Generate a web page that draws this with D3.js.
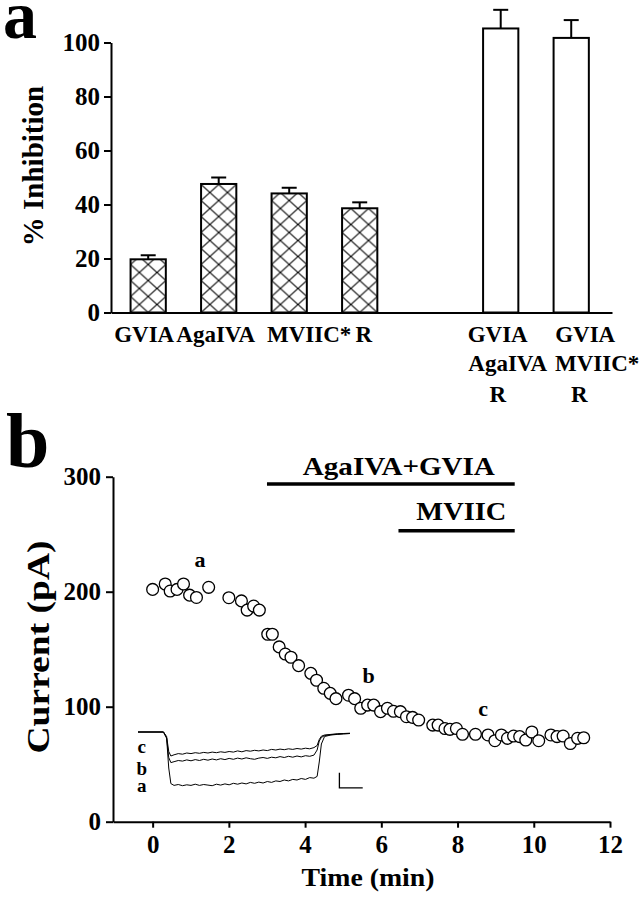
<!DOCTYPE html>
<html><head><meta charset="utf-8">
<script src="https://cdn.jsdelivr.net/npm/d3@7"></script>
<style>
body{margin:0;background:#fff}
svg{display:block}
text{font-family:"Liberation Serif","Times New Roman",serif;font-weight:bold;fill:#000}
</style>
</head><body>
<svg id="chart" width="640" height="899"></svg>
<script>
// ---------------- Panel a data ----------------
const barSlots      = ["GVIA","AgaIVA","MVIIC*","R","gap","GVIA+AgaIVA+R","GVIA+MVIIC*+R"];
const barCategories = ["GVIA","AgaIVA","MVIIC*","R","GVIA+AgaIVA+R","GVIA+MVIIC*+R"];
const barLabelLines = [["GVIA"],["AgaIVA"],["MVIIC*"],["R"],["GVIA","AgaIVA","R"],["GVIA","MVIIC*","R"]];
const barValues     = [19.7, 47.6, 44.1, 38.6, 105.2, 101.7];
const barErrors     = [1.5, 2.4, 2.1, 2.2, 6.9, 6.6];
const barHatched    = [true, true, true, true, false, false];
const inhibitionTicks = [0, 20, 40, 60, 80, 100];

// ---------------- Panel b data ----------------
const timeMin = [0, 0.33, 0.46, 0.64, 0.81, 0.97, 1.15, 1.47, 2.0, 2.33, 2.48, 2.65, 2.8, 3.02, 3.14, 3.32, 3.48, 3.63, 3.83, 4.15, 4.3, 4.49, 4.66, 4.81, 5.14, 5.3, 5.46, 5.64, 5.8, 5.98, 6.16, 6.32, 6.5, 6.66, 6.82, 6.98, 7.35, 7.49, 7.67, 7.8, 7.97, 8.13, 8.47, 8.8, 8.98, 9.15, 9.31, 9.47, 9.63, 9.79, 9.95, 10.13, 10.45, 10.61, 10.77, 10.96, 11.15, 11.31];
const currentPA = [202, 206.7, 200.6, 202, 206.7, 197, 195, 203.8, 194.8, 192, 184, 187.5, 184, 163, 163, 152, 145.8, 143, 135.7, 129, 123, 116, 111.6, 107, 110, 107, 98.6, 101.4, 101.4, 95.7, 98.6, 96, 95.7, 91.3, 90.7, 88.4, 84, 84, 81, 80.3, 81, 76, 76, 75.4, 70.4, 75.4, 72.5, 74.5, 74, 71, 78, 70.4, 75.4, 74, 74.5, 68, 72.5, 73];
const timeTicks = [0, 2, 4, 6, 8, 10, 12];
const currentTicks = [0, 100, 200, 300];
const drugNames = ["AgaIVA+GVIA", "MVIIC"];
const drugStart = [3.0, 6.45];
const drugEnd   = [9.5, 9.5];
const sampleLabels = ["a", "b", "c"];
const sampleTimes  = [1.24, 5.67, 8.67];

// inset current traces (ms, pA relative to holding)
const insetT = [0, 12, 13.5, 14.5, 15.5, 17, 19, 21, 23, 25, 27, 29, 31, 33, 35, 37, 39, 41, 43, 45, 47, 49, 51, 53, 55, 57, 59, 61, 63, 65, 67, 69, 71, 73, 75, 77, 79, 81, 83, 84.5, 85.5, 86.5, 88, 91, 94, 97, 100];
const traceA = [0, 0, -20, -120, -172, -178, -175, -179, -176, -178, -174, -178, -175, -177, -179, -174, -177, -173, -176, -171, -174, -170, -173, -168, -171, -167, -170, -165, -168, -163, -165, -160, -163, -158, -160, -155, -158, -152, -154, -148, -100, -40, -15, -10, -8, -6, -5];
const traceB = [0, 0, -20, -85, -102, -99, -95, -97, -93, -96, -92, -95, -91, -94, -90, -93, -89, -92, -88, -91, -87, -90, -86, -89, -91, -87, -85, -88, -84, -86, -82, -85, -81, -84, -80, -83, -79, -81, -77, -60, -30, -18, -12, -9, -7, -6, -5];
const traceC = [0, 0, -15, -65, -80, -76, -72, -74, -70, -72, -69, -71, -68, -70, -67, -69, -66, -68, -65, -67, -63, -66, -62, -64, -61, -63, -60, -62, -58, -60, -57, -59, -56, -58, -55, -57, -54, -56, -52, -45, -25, -14, -10, -8, -6, -5, -4];
const insetTraces = [traceA, traceB, traceC];
const insetTraceNames = ["a", "b", "c"];
const scaleBarMs = 11, scaleBarPA = 50;

// ---------------- Drawing ----------------
const svg = d3.select("#chart");
svg.append("rect").attr("width", 640).attr("height", 899).attr("fill", "#fff");

// ===== Panel a =====
const xA = d3.scaleBand().domain(barSlots).range([111, 612])
  .paddingInner(0.5).paddingOuter(0.303).align(0.458);
const yA = d3.scaleLinear().domain([0, 100]).range([312.5, 42.5]);

const defs = svg.append("defs");
const hw = xA.step() / 4, hh = 16;
const pat = defs.append("pattern").attr("id", "hatch")
  .attr("patternUnits", "userSpaceOnUse")
  .attr("x", xA(barSlots[0])).attr("y", yA(0))
  .attr("width", hw).attr("height", hh);
pat.append("rect").attr("width", hw).attr("height", hh).attr("fill", "#fff");
pat.append("path").attr("d", `M0,0L${hw},${hh}M${hw},0L0,${hh}`)
  .attr("stroke", "#000").attr("stroke-width", 1).attr("fill", "none");

svg.append("text").attr("x", 3).attr("y", 38).attr("font-size", 68).text("a");

const gBars = svg.append("g");
barCategories.forEach((c, i) => {
  const x = xA(c), w = xA.bandwidth(), cx = x + w / 2;
  gBars.append("rect").attr("x", x).attr("y", yA(barValues[i]))
    .attr("width", w).attr("height", yA(0) - yA(barValues[i]))
    .attr("fill", barHatched[i] ? "url(#hatch)" : "#fff")
    .attr("stroke", "#000").attr("stroke-width", 2);
  const yt = yA(barValues[i] + barErrors[i]);
  gBars.append("line").attr("x1", cx).attr("x2", cx).attr("y1", yA(barValues[i])).attr("y2", yt)
    .attr("stroke", "#000").attr("stroke-width", 2);
  gBars.append("line").attr("x1", cx - 7.5).attr("x2", cx + 7.5).attr("y1", yt).attr("y2", yt)
    .attr("stroke", "#000").attr("stroke-width", 2);
});

// axes a
const axA = svg.append("g").attr("transform", "translate(111,0)")
  .call(d3.axisLeft(yA).tickValues(inhibitionTicks).tickSize(7).tickSizeOuter(0).tickPadding(4));
const axAx = svg.append("g").attr("transform", `translate(0,${yA(0)})`)
  .call(d3.axisBottom(xA).tickSize(0).tickSizeOuter(0).tickFormat(""));
[axA, axAx].forEach(g => {
  g.select(".domain").attr("stroke", "#000").attr("stroke-width", 2);
  g.selectAll(".tick line").attr("stroke", "#000").attr("stroke-width", 2);
  g.selectAll("text").attr("font-family", null).attr("font-size", 25).attr("fill", "#000");
});
axAx.selectAll(".tick").remove();

svg.append("text").attr("transform", "translate(43,166) rotate(-90)")
  .attr("text-anchor", "middle").attr("font-size", 29).text("% Inhibition");

// category labels (layout offsets in px relative to bar centres)
const labelDx = [[-4], [-3], [20], [4], [-3, 7, -3], [14, 26, 8]];
const lineY = [341.7, 370.5, 401.7];
barCategories.forEach((c, i) => {
  const cx = xA(c) + xA.bandwidth() / 2;
  barLabelLines[i].forEach((t, j) => {
    svg.append("text").attr("x", cx + labelDx[i][j]).attr("y", lineY[j])
      .attr("text-anchor", "middle").attr("font-size", 23)
      .attr("font-weight", t === "R" && i > 3 ? "normal" : "bold")
      .text(t);
  });
});

// ===== Panel b =====
const xB = d3.scaleLinear().domain([-1.04, 12]).range([113, 610]);
const yB = d3.scaleLinear().domain([0, 300]).range([821.7, 476.7]);

svg.append("text").attr("x", 6).attr("y", 467).attr("font-size", 78).text("b");

const axBy = svg.append("g").attr("transform", "translate(113,0)")
  .call(d3.axisLeft(yB).tickValues(currentTicks).tickSize(7).tickSizeOuter(0).tickPadding(5));
const axBx = svg.append("g").attr("transform", `translate(0,${yB(0)})`)
  .call(d3.axisBottom(xB).tickValues(timeTicks).tickSize(6).tickSizeOuter(0).tickPadding(3));
[axBy, axBx].forEach(g => {
  g.select(".domain").attr("stroke", "#000").attr("stroke-width", 2);
  g.selectAll(".tick line").attr("stroke", "#000").attr("stroke-width", 2);
  g.selectAll("text").attr("font-family", null).attr("font-size", 25).attr("fill", "#000");
});
axBx.selectAll("text").attr("dy", null).attr("y", 31.5);

svg.append("text").attr("x", 368).attr("y", 886).attr("text-anchor", "middle")
  .attr("font-size", 25).attr("textLength", 133).attr("lengthAdjust", "spacingAndGlyphs").text("Time (min)");
svg.append("text").attr("transform", "translate(49,647) rotate(-90)")
  .attr("text-anchor", "middle").attr("font-size", 31)
  .attr("textLength", 213).attr("lengthAdjust", "spacingAndGlyphs").text("Current (pA)");

// drug application bars
const drugLevel = [293.7, 253];
const drugLabelPos = [[6.46, 301.5, 192], [8.1, 262.4, 90]];
drugNames.forEach((d, i) => {
  svg.append("line").attr("x1", xB(drugStart[i])).attr("x2", xB(drugEnd[i]))
    .attr("y1", yB(drugLevel[i])).attr("y2", yB(drugLevel[i]))
    .attr("stroke", "#000").attr("stroke-width", 3.5);
  svg.append("text").attr("x", xB(drugLabelPos[i][0])).attr("y", yB(drugLabelPos[i][1]))
    .attr("text-anchor", "middle").attr("font-size", 25)
    .attr("textLength", drugLabelPos[i][2]).attr("lengthAdjust", "spacingAndGlyphs").text(d);
});

// data points
svg.append("g").selectAll("circle").data(timeMin).join("circle")
  .attr("cx", (t) => xB(t)).attr("cy", (t, i) => yB(currentPA[i])).attr("r", 5.9)
  .attr("fill", "#fff").attr("stroke", "#000").attr("stroke-width", 1.3);

// sample labels
const sampleLabelI = [221.5, 120.6, 92];
sampleLabels.forEach((s, i) => {
  svg.append("text").attr("x", xB(sampleTimes[i])).attr("y", yB(sampleLabelI[i]))
    .attr("text-anchor", "middle").attr("font-size", 22).text(s);
});

// inset traces
const xI = d3.scaleLinear().domain([0, 100]).range([138, 350]);
const yI = d3.scaleLinear().domain([0, -200]).range([732, 792]);
const lineI = d3.line().x((d, i) => xI(insetT[i])).y(d => yI(d));
insetTraces.forEach(tr => {
  svg.append("path").attr("d", lineI(tr)).attr("fill", "none")
    .attr("stroke", "#000").attr("stroke-width", 1);
});
const insetLabelY = [791.5, 775, 752.5];
insetTraceNames.forEach((n, i) => {
  svg.append("text").attr("x", 141.7).attr("y", insetLabelY[i]).attr("text-anchor", "middle")
    .attr("font-size", 19).text(n);
});
// scale bar
const sbX = 95, sbY = -186;
svg.append("path")
  .attr("d", `M${xI(sbX)},${yI(sbY + scaleBarPA)}L${xI(sbX)},${yI(sbY)}L${xI(sbX + scaleBarMs)},${yI(sbY)}`)
  .attr("fill", "none").attr("stroke", "#000").attr("stroke-width", 1.3);
</script>
</body></html>
